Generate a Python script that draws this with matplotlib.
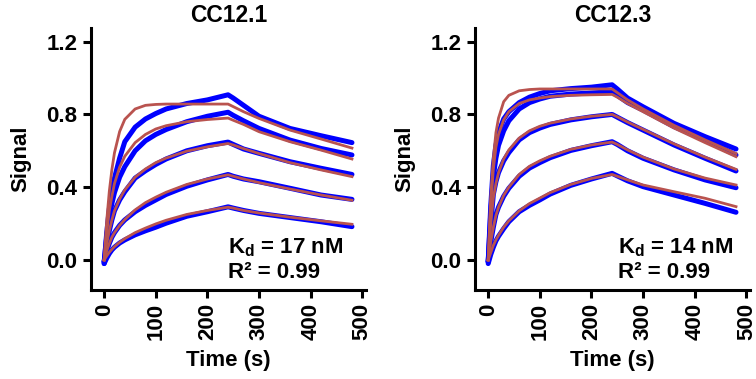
import matplotlib
matplotlib.use("Agg")
import matplotlib.pyplot as plt

plt.rcParams['font.family'] = ['Liberation Sans', 'DejaVu Sans']
plt.rcParams['font.weight'] = 'bold'
plt.rcParams['mathtext.fontset'] = 'custom'
plt.rcParams['mathtext.rm'] = 'Liberation Sans:bold'
plt.rcParams['mathtext.it'] = 'Liberation Sans:bold'
plt.rcParams['mathtext.bf'] = 'Liberation Sans:bold'
plt.rcParams['mathtext.default'] = 'rm'

time_s = [0, 5, 10, 15, 20, 30, 40, 60, 80, 100, 120, 160, 200, 240,
          250, 270, 300, 360, 420, 480]

titles = ["CC12.1", "CC12.3"]
kd_labels = ["17 nM", "14 nM"]
r2_labels = ["0.99", "0.99"]

# CC12.1 measured traces (highest to lowest concentration)
cc121_data_1 = [-0.02, 0.15, 0.28, 0.38, 0.45, 0.56, 0.65, 0.73, 0.775, 0.805, 0.83, 0.86, 0.88, 0.908,
                0.89, 0.85, 0.79, 0.723, 0.683, 0.645]
cc121_data_2 = [-0.01, 0.13, 0.24, 0.31, 0.37, 0.455, 0.513, 0.60, 0.655, 0.69, 0.717, 0.76, 0.79, 0.812,
                0.795, 0.765, 0.723, 0.659, 0.613, 0.577]
cc121_data_3 = [-0.01, 0.08, 0.16, 0.22, 0.27, 0.33, 0.375, 0.45, 0.49, 0.525, 0.555, 0.60, 0.628, 0.648,
                0.635, 0.61, 0.586, 0.54, 0.504, 0.47]
cc121_data_4 = [-0.01, 0.05, 0.09, 0.125, 0.15, 0.19, 0.22, 0.265, 0.30, 0.33, 0.36, 0.405, 0.44, 0.47,
                0.46, 0.445, 0.43, 0.394, 0.357, 0.333]
cc121_data_5 = [-0.02, 0.01, 0.035, 0.055, 0.07, 0.093, 0.11, 0.138, 0.16, 0.18, 0.202, 0.24, 0.265, 0.292,
                0.285, 0.272, 0.256, 0.233, 0.21, 0.183]

# CC12.1 fitted curves
cc121_fit_1 = [0.0, 0.216, 0.377, 0.497, 0.589, 0.706, 0.773, 0.83, 0.85, 0.855, 0.857, 0.857, 0.857, 0.857,
               0.843, 0.815, 0.778, 0.714, 0.665, 0.615]
cc121_fit_2 = [0.0, 0.15, 0.27, 0.35, 0.42, 0.51, 0.57, 0.645, 0.69, 0.72, 0.738, 0.76, 0.772, 0.78,
               0.768, 0.745, 0.705, 0.65, 0.604, 0.555]
cc121_fit_3 = [0.0, 0.09, 0.16, 0.22, 0.27, 0.335, 0.385, 0.455, 0.50, 0.535, 0.56, 0.598, 0.622, 0.64,
               0.632, 0.612, 0.585, 0.535, 0.495, 0.458]
cc121_fit_4 = [0.0, 0.05, 0.09, 0.125, 0.15, 0.19, 0.222, 0.275, 0.315, 0.345, 0.372, 0.415, 0.445, 0.468,
               0.46, 0.445, 0.425, 0.39, 0.357, 0.328]
cc121_fit_5 = [0.0, 0.022, 0.042, 0.058, 0.073, 0.097, 0.117, 0.15, 0.175, 0.198, 0.218, 0.25, 0.272, 0.29,
               0.285, 0.272, 0.258, 0.235, 0.215, 0.196]

# CC12.3 measured traces
cc123_data_1 = [-0.01, 0.30, 0.52, 0.63, 0.70, 0.775, 0.815, 0.865, 0.895, 0.915, 0.93, 0.942, 0.95, 0.963,
                0.94, 0.89, 0.842, 0.751, 0.678, 0.61]
cc123_data_2 = [-0.01, 0.26, 0.46, 0.56, 0.63, 0.71, 0.765, 0.83, 0.865, 0.885, 0.90, 0.912, 0.918, 0.925,
                0.905, 0.865, 0.824, 0.733, 0.66, 0.577]
cc123_data_3 = [-0.01, 0.20, 0.36, 0.43, 0.48, 0.545, 0.59, 0.66, 0.70, 0.725, 0.745, 0.77, 0.787, 0.80,
                0.785, 0.755, 0.714, 0.632, 0.559, 0.489]
cc123_data_4 = [-0.01, 0.10, 0.18, 0.25, 0.29, 0.35, 0.394, 0.46, 0.505, 0.535, 0.562, 0.602, 0.628, 0.65,
                0.635, 0.60, 0.559, 0.495, 0.44, 0.397]
cc123_data_5 = [-0.02, 0.03, 0.07, 0.105, 0.13, 0.172, 0.21, 0.265, 0.30, 0.33, 0.362, 0.41, 0.445, 0.476,
                0.462, 0.435, 0.403, 0.357, 0.311, 0.262]

# CC12.3 fitted curves
cc123_fit_1 = [0.0, 0.35, 0.56, 0.70, 0.78, 0.87, 0.905, 0.93, 0.937, 0.94, 0.94, 0.94, 0.94, 0.94,
               0.92, 0.88, 0.83, 0.74, 0.66, 0.585]
cc123_fit_2 = [0.0, 0.30, 0.50, 0.62, 0.69, 0.77, 0.815, 0.86, 0.88, 0.89, 0.898, 0.905, 0.908, 0.91,
               0.895, 0.86, 0.815, 0.725, 0.645, 0.568]
cc123_fit_3 = [0.0, 0.20, 0.34, 0.42, 0.48, 0.555, 0.605, 0.67, 0.71, 0.735, 0.752, 0.775, 0.79, 0.80,
               0.787, 0.758, 0.718, 0.638, 0.565, 0.498]
cc123_fit_4 = [0.0, 0.10, 0.18, 0.245, 0.29, 0.355, 0.40, 0.47, 0.515, 0.545, 0.57, 0.608, 0.632, 0.648,
               0.635, 0.605, 0.565, 0.50, 0.45, 0.412]
cc123_fit_5 = [0.0, 0.04, 0.08, 0.11, 0.135, 0.18, 0.215, 0.27, 0.31, 0.34, 0.37, 0.415, 0.448, 0.47,
               0.46, 0.44, 0.412, 0.375, 0.339, 0.293]

panels = [
    ([cc121_data_1, cc121_data_2, cc121_data_3, cc121_data_4, cc121_data_5],
     [cc121_fit_1, cc121_fit_2, cc121_fit_3, cc121_fit_4, cc121_fit_5]),
    ([cc123_data_1, cc123_data_2, cc123_data_3, cc123_data_4, cc123_data_5],
     [cc123_fit_1, cc123_fit_2, cc123_fit_3, cc123_fit_4, cc123_fit_5]),
]

data_color = '#0000FF'
fit_color = '#B9534F'

fig = plt.figure(figsize=(7.56, 3.79), dpi=100)
lefts = [0.120, 0.628]
kd_x = [240, 252]
for i, (datas, fits) in enumerate(panels):
    ax = fig.add_axes([lefts[i], 0.235, 0.364, 0.691])
    for d in datas:
        ax.plot(time_s, d, color=data_color, lw=3.6, solid_joinstyle='round', solid_capstyle='round')
    for f in fits:
        ax.plot(time_s, f, color=fit_color, lw=2.0, solid_joinstyle='round')
    ax.set_xlim(-26, 507)
    ax.set_ylim(-0.165, 1.275)
    ax.set_xticks([0, 100, 200, 300, 400, 500])
    ax.set_yticks([0.0, 0.4, 0.8, 1.2])
    ax.set_yticklabels(['0.0', '0.4', '0.8', '1.2'])
    for s in ['top', 'right']:
        ax.spines[s].set_visible(False)
    for s in ['left', 'bottom']:
        ax.spines[s].set_linewidth(2.2)
    ax.tick_params(axis='both', width=2.2, length=6, labelsize=16, direction='out')
    ax.tick_params(axis='x', labelrotation=90)
    for lab in ax.get_xticklabels() + ax.get_yticklabels():
        lab.set_fontweight('bold')
    ax.set_xlabel('Time (s)', fontsize=16, fontweight='bold', labelpad=7)
    ax.set_ylabel('Signal', fontsize=16, fontweight='bold', labelpad=11)
    ax.set_title(titles[i], fontsize=16.5, fontweight='bold', pad=4)
    ax.text(kd_x[i], 0.066, r'K$_{d}$ = ' + kd_labels[i], fontsize=16, fontweight='bold',
            ha='left', va='center')
    ax.text(kd_x[i], -0.068, 'R\u00b2 = ' + r2_labels[i], fontsize=16, fontweight='bold',
            ha='left', va='center')

fig.savefig('out.png', dpi=100)
